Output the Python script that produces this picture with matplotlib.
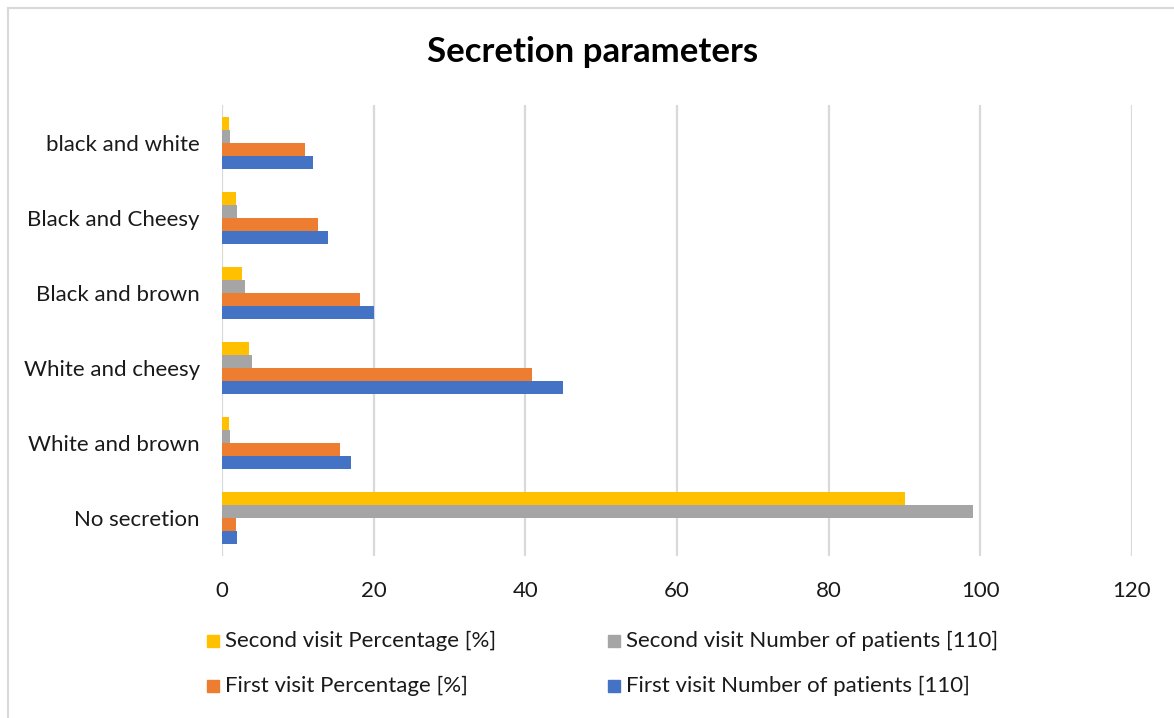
import matplotlib
matplotlib.use("Agg")
import matplotlib.pyplot as plt
import numpy as np
from matplotlib.lines import Line2D

plt.rcParams['font.family'] = ['Lato', 'DejaVu Sans']

categories = ["No secretion", "White and brown", "White and cheesy",
              "Black and brown", "Black and Cheesy", "black and white"]
first_number = [2, 17, 45, 20, 14, 12]
first_percent = [1.8, 15.5, 40.9, 18.2, 12.7, 10.9]
second_number = [99, 1, 4, 3, 2, 1]
second_percent = [90, 0.9, 3.6, 2.7, 1.8, 0.9]

series = [
    ("First visit Number of patients [110]", first_number, "#4472C4"),
    ("First visit Percentage [%]", first_percent, "#ED7D31"),
    ("Second visit Number of patients [110]", second_number, "#A5A5A5"),
    ("Second visit Percentage [%]", second_percent, "#FFC000"),
]

W, H = 1174, 718
fig = plt.figure(figsize=(W / 100, H / 100), dpi=100)
ax = fig.add_axes([222 / W, 1 - 556 / H, (1132 - 222) / W, (556 - 105) / H])

y = np.arange(len(categories))
bh = 0.173
offsets = (np.arange(4) - 1.5) * bh
for (label, vals, color), off in zip(series, offsets):
    ax.barh(y + off, vals, height=bh, color=color, label=label, zorder=3)

ax.set_xlim(0, 120)
ax.set_ylim(-0.5, 5.5)
ax.set_xticks(np.arange(0, 121, 20))
ax.set_yticks(y)
ax.set_yticklabels(categories, fontsize=16, color="#1a1a1a")
ax.tick_params(axis="x", labelsize=16, colors="#1a1a1a", length=0, pad=18)
ax.tick_params(axis="y", length=0, pad=16)
for s in ax.spines.values():
    s.set_visible(False)
ax.grid(axis="x", color="#D9D9D9", linewidth=1.6, zorder=0)
ax.set_axisbelow(True)

fig.text(593 / W, 1 - 52 / H, "Secretion parameters", ha="center", va="center",
         fontsize=25, fontweight="bold", color="#000000")

# legend, arranged in two rows
leg_items = [
    (207, 641, "#FFC000", "Second visit Percentage [%]"),
    (608, 641, "#A5A5A5", "Second visit Number of patients [110]"),
    (207, 686, "#ED7D31", "First visit Percentage [%]"),
    (608, 686, "#4472C4", "First visit Number of patients [110]"),
]
for lx, ly, c, t in leg_items:
    fig.patches.append(plt.Rectangle((lx / W, 1 - (ly + 6) / H), 12 / W, 12 / H,
                                     transform=fig.transFigure, color=c))
    fig.text((lx + 18) / W, 1 - ly / H, t, ha="left", va="center",
             fontsize=16, color="#1a1a1a")

# chart frame
fig.add_artist(Line2D([7.5 / W, 7.5 / W], [0, 1 - 7.5 / H], transform=fig.transFigure,
                      color="#D9D9D9", linewidth=1.5))
fig.add_artist(Line2D([7.5 / W, 1], [1 - 7.5 / H, 1 - 7.5 / H], transform=fig.transFigure,
                      color="#D9D9D9", linewidth=1.5))

fig.savefig("out.png", dpi=100, facecolor="white")
